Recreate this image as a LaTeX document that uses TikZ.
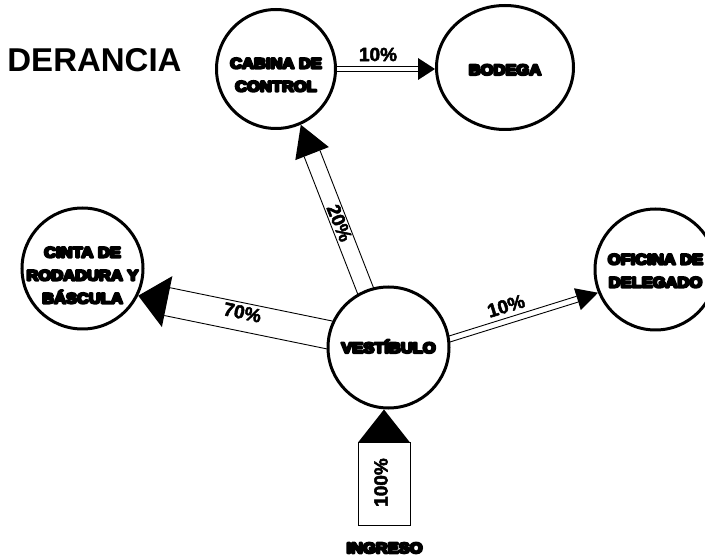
\documentclass[tikz,border=0pt]{standalone}
\usepackage{fontspec}
\usepackage{graphicx}
\setmainfont{Liberation Sans}
\newfontfamily\heavyfont{Liberation Sans Bold}
\usetikzlibrary{calc,backgrounds,shapes.geometric}
\newcommand{\thick}[2][2.2]{\special{pdf:literal direct 1 j 2 Tr #1 w}#2\special{pdf:literal direct 0 Tr}}
\newcommand{\inside}[2][0pt]{\raisebox{#1}[0pt][0pt]{\makebox[0pt]{\scalebox{1.1}[1]{\thick{\begin{tabular}{@{}c@{}}#2\end{tabular}}}}}}
% #1 tail, #2 tip, #3 shaft half width, #4 head half width, #5 head length
\newcommand{\flowarrow}[5]{%
  \coordinate (fa-a) at ($(#1)!-30pt!(#2)$);
  \coordinate (fa-b) at ($(#2)!#5!(#1)$);
  \draw[shaft] ($(fa-a)!#3!90:(#2)$) -- ($(fa-b)!#3!-90:(fa-a)$);
  \draw[shaft] ($(fa-a)!#3!-90:(#2)$) -- ($(fa-b)!#3!90:(fa-a)$);
  \fill[head] ($(fa-b)!#4!90:(fa-a)$) -- (#2) -- ($(fa-b)!#4!-90:(fa-a)$) -- cycle;
}
\begin{document}
\begin{tikzpicture}[x=1pt,y=-1pt,
  room/.style={circle, draw, line width=3pt, fill=white, inner sep=0pt,
    minimum size=120pt, font=\heavyfont\fontsize{15}{23}\selectfont},
  shaft/.style={line width=0.9pt},
  head/.style={fill=black},
  pct/.style={font=\bfseries\fontsize{19}{19}\selectfont, inner sep=0pt},
  heavy/.style={font=\heavyfont\fontsize{15}{15}\selectfont, inner sep=0pt}]
\useasboundingbox (0,0) rectangle (705,556);

\node[font=\bfseries\fontsize{33}{33}\selectfont, inner sep=0pt] (title) at (94.5,60) {DERANCIA};

\node[room, minimum size=119pt] (cab) at (276,69) {\inside[-10pt]{CABINA DE\\CONTROL}};
\node[room, ellipse, minimum width=137pt, minimum height=124pt] (bod) at (505,67.5) {\inside[-6.5pt]{BODEGA}};
\node[room, minimum size=121pt] (cin) at (82.5,268.5) {\inside[-11pt]{CINTA DE\\RODADURA Y\\BÁSCULA}};
\node[room, minimum size=121pt] (ves) at (388.5,347.5) {\inside[-4.5pt]{VESTÍBULO}};
\node[room, minimum size=121pt] (ofi) at (655.5,269.5) {\inside[-5.5pt]{OFICINA DE\\DELEGADO}};

\node[heavy] (ing) at (384.5,548) {\scalebox{1.1}[1]{\thick{INGRESO}}};
\coordinate (ingb) at (384,525);
\coordinate (t100) at (ves.south -| ingb);
\coordinate (tbod) at (cab.east -| bod.west);

\begin{pgfonlayer}{background}
  \flowarrow{ves.112}{cab.-66}{8.5pt}{18pt}{31pt}
  \flowarrow{ves.168}{cin.-26}{14.2pt}{26pt}{29.5pt}
  \flowarrow{ves.8}{ofi.202}{3pt}{11.4pt}{21.6pt}
  \flowarrow{cab.east}{tbod}{2.5pt}{11pt}{17pt}
  \coordinate (b100) at ($(t100)!33pt!(ingb)$);
  \draw[line width=1pt] ($(b100)+(-26,0)$) rectangle ($(ingb)+(26,0)$);
  \fill[head] ($(b100)+(-26,0)$) -- (t100) -- ($(b100)+(26,0)$) -- cycle;
\end{pgfonlayer}

\node[pct] (l10a) at (378,54.5) {\thick[0.5]{10\%}};
\node[pct, rotate=-12] (l70) at (242.5,312.5) {\thick[0.5]{70\%}};
\node[pct, rotate=-68] (l20) at (339.5,223) {\thick[0.5]{20\%}};
\node[pct, rotate=17] (l10b) at (506,306) {\thick[0.5]{10\%}};
\node[pct, rotate=90] (l100) at (381,482.5) {\thick[0.5]{100\%}};
\end{tikzpicture}
\end{document}
